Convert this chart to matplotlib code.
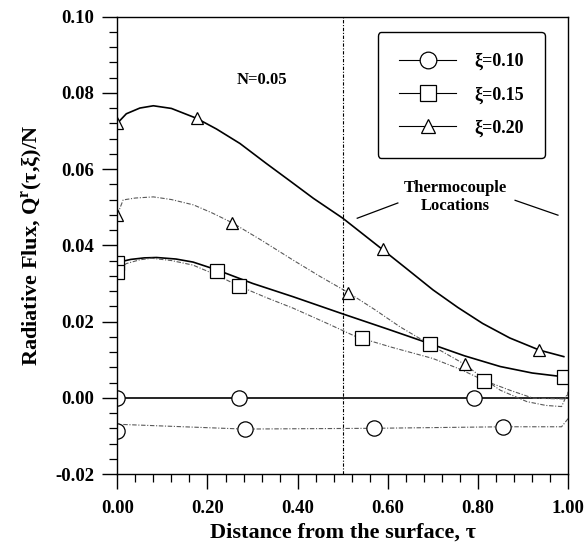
#import libraries
import numpy as np
import matplotlib
matplotlib.use("Agg")
import matplotlib.pyplot as plt
from matplotlib.lines import Line2D
from matplotlib.ticker import MultipleLocator, FormatStrFormatter

plt.rcParams['font.family'] = ['Liberation Serif', 'DejaVu Serif']
plt.rcParams['font.weight'] = 'bold'
plt.rcParams['mathtext.fontset'] = 'custom'
plt.rcParams['mathtext.rm'] = 'Liberation Serif:bold'

#Curve data (solid = theory, dotted = second set)
tau_20_solid = [0.0, 0.02, 0.05, 0.08, 0.12, 0.176, 0.22, 0.272, 0.33, 0.385, 0.435, 0.50,
                0.588, 0.64, 0.70, 0.755, 0.81, 0.87, 0.936, 0.99]
q_20_solid = [0.072, 0.0745, 0.0760, 0.0766, 0.0759, 0.0733, 0.0705, 0.0667, 0.0615, 0.0567, 0.0523, 0.0471,
              0.0389, 0.0340, 0.0283, 0.0237, 0.0195, 0.0157, 0.0125, 0.0108]

tau_20_dot = [0.0, 0.013, 0.04, 0.08, 0.12, 0.169, 0.21, 0.255, 0.32, 0.39, 0.45, 0.512,
              0.57, 0.627, 0.70, 0.77, 0.81, 0.849, 0.908, 0.95, 0.985, 1.0]
q_20_dot = [0.048, 0.0519, 0.0524, 0.0527, 0.0520, 0.0506, 0.0485, 0.0459, 0.0413, 0.0361, 0.0318, 0.0276,
            0.0232, 0.0186, 0.0135, 0.0088, 0.0052, 0.0020, -0.0010, -0.0020, -0.0023, 0.0016]

tau_15_solid = [0.0, 0.03, 0.06, 0.087, 0.13, 0.168, 0.222, 0.30, 0.39, 0.4975, 0.60, 0.693,
                0.77, 0.849, 0.92, 0.99]
q_15_solid = [0.0355, 0.0363, 0.0367, 0.0368, 0.0364, 0.0356, 0.0335, 0.0300, 0.0265, 0.0221, 0.0180, 0.0142,
              0.0110, 0.0082, 0.0065, 0.0055]

tau_15_dot = [0.0, 0.02, 0.05, 0.076, 0.12, 0.168, 0.22, 0.27, 0.33, 0.39, 0.46, 0.53,
              0.61, 0.70, 0.76, 0.814, 0.87, 0.922, 0.99, 1.0]
q_15_dot = [0.0335, 0.0352, 0.0362, 0.0366, 0.0360, 0.0348, 0.0322, 0.0293, 0.0263, 0.0235, 0.0198, 0.0160,
            0.0132, 0.0103, 0.0075, 0.0045, 0.0020, -0.0001, -0.0003, 0.0010]

tau_10_solid = [0.0, 0.27, 0.79, 1.0]
q_10_solid = [0.0, 0.0, 0.0, 0.0]

tau_10_dot = [0.0, 0.013, 0.28, 0.57, 0.856, 0.985, 1.0]
q_10_dot = [-0.0087, -0.0070, -0.0082, -0.0080, -0.0076, -0.0076, -0.0054]

#Marker positions
mk_20_solid_x = [0.0, 0.176, 0.588, 0.936]
mk_20_solid_y = [0.072, 0.0733, 0.0389, 0.0125]
mk_20_dot_x = [0.0, 0.255, 0.512, 0.77]
mk_20_dot_y = [0.048, 0.0459, 0.0276, 0.0088]
mk_15_solid_x = [0.0, 0.222, 0.693, 0.99]
mk_15_solid_y = [0.0353, 0.0333, 0.0140, 0.0055]
mk_15_dot_x = [0.0, 0.27, 0.542, 0.814]
mk_15_dot_y = [0.0331, 0.0293, 0.0156, 0.0045]
mk_10_solid_x = [0.0, 0.27, 0.79]
mk_10_solid_y = [0.0, 0.0, 0.0]
mk_10_dot_x = [0.0, 0.284, 0.57, 0.856]
mk_10_dot_y = [-0.0087, -0.0082, -0.0080, -0.0076]

legend_labels = ["ξ=0.10", "ξ=0.15", "ξ=0.20"]

fig = plt.figure(figsize=(5.85, 5.43), dpi=100)
ax = fig.add_axes([0.2005, 0.127, 0.771, 0.8425])

dot_style = dict(color='0.35', lw=0.8, ls=(0, (4, 1.5, 1, 1.5)))
mk_style = dict(ls='none', mfc='white', mec='black', mew=0.9)

#curves
ax.plot(tau_20_solid, q_20_solid, color='black', lw=1.2)
ax.plot(tau_15_solid, q_15_solid, color='black', lw=1.2)
ax.plot(tau_10_solid, q_10_solid, color='black', lw=1.2)
ax.plot(tau_20_dot, q_20_dot, **dot_style)
ax.plot(tau_15_dot, q_15_dot, **dot_style)
ax.plot(tau_10_dot, q_10_dot, **dot_style)

#markers
ax.plot(mk_20_solid_x, mk_20_solid_y, marker='^', ms=8.5, **mk_style)
ax.plot(mk_20_dot_x, mk_20_dot_y, marker='^', ms=8.5, **mk_style)
ax.plot(mk_15_solid_x, mk_15_solid_y, marker='s', ms=10.5, **mk_style)
ax.plot(mk_15_dot_x, mk_15_dot_y, marker='s', ms=10.5, **mk_style)
ax.plot(mk_10_solid_x, mk_10_solid_y, marker='o', ms=11, **mk_style)
ax.plot(mk_10_dot_x, mk_10_dot_y, marker='o', ms=11, **mk_style)

#thermocouple line
ax.axvline(0.5, color='black', lw=0.8, ls=(0, (3, 1.5, 1, 1.5)))

ax.set_xlim(0, 1.0)
ax.set_ylim(-0.02, 0.10)
ax.xaxis.set_major_locator(MultipleLocator(0.2))
ax.xaxis.set_minor_locator(MultipleLocator(0.04))
ax.yaxis.set_major_locator(MultipleLocator(0.02))
ax.yaxis.set_minor_locator(MultipleLocator(0.004))
ax.xaxis.set_major_formatter(FormatStrFormatter('%.2f'))
ax.yaxis.set_major_formatter(FormatStrFormatter('%.2f'))
ax.tick_params(which='major', direction='out', length=10.5, width=1.0, labelsize=13.5, pad=8)
ax.tick_params(which='minor', direction='out', length=5.5, width=0.9)
ax.tick_params(axis='y', which='major', pad=6)
for s in ax.spines.values():
    s.set_linewidth(1.0)

ax.set_xlabel("Distance from the surface, τ", fontsize=16, fontweight='bold', labelpad=4)
ax.set_ylabel(r"Radiative Flux, Q$^{\mathrm{r}}$(τ,ξ)/N", fontsize=16, fontweight='bold', labelpad=8)

ax.text(0.32, 0.0834, "N=0.05", fontsize=12, fontweight='bold', ha='center', va='center')
ax.text(0.749, 0.0527, "Thermocouple\nLocations", fontsize=12, fontweight='bold',
        ha='center', va='center', linespacing=1.15)
ax.plot([0.532, 0.622], [0.0471, 0.0511], color='black', lw=0.9)
ax.plot([0.882, 0.977], [0.0518, 0.0479], color='black', lw=0.9)

#legend
handles = [
    Line2D([], [], color='black', lw=0.8, marker='o', ms=12, mfc='white', mec='black', mew=0.9),
    Line2D([], [], color='black', lw=0.8, marker='s', ms=11, mfc='white', mec='black', mew=0.9),
    Line2D([], [], color='black', lw=0.8, marker='^', ms=10, mfc='white', mec='black', mew=0.9),
]
leg = ax.legend(handles, legend_labels, loc='upper right', bbox_to_anchor=(0.948, 0.966),
                borderaxespad=0, fontsize=13, handlelength=3.2, handletextpad=1.0, labelspacing=0.88,
                borderpad=1.15, fancybox=True, framealpha=1, edgecolor='black', numpoints=1)
leg.get_frame().set_linewidth(1.0)
for t in leg.get_texts():
    t.set_fontweight('bold')

fig.savefig("out.png", dpi=100)
